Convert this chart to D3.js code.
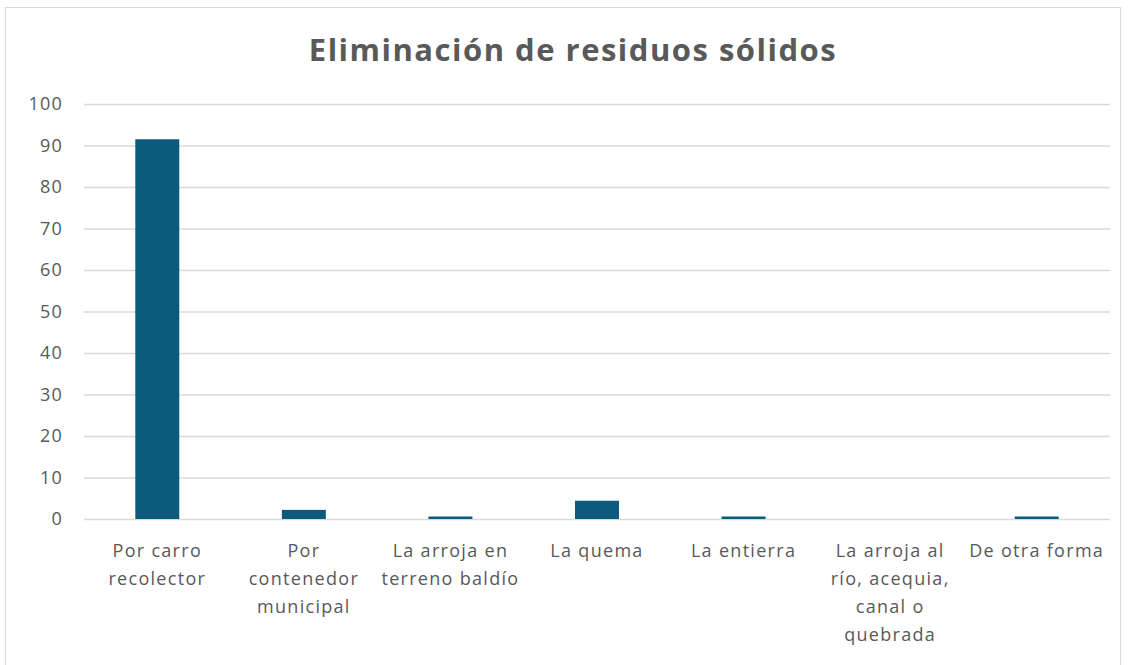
<!DOCTYPE html>
<html><head><meta charset="utf-8">
<script src="https://cdn.jsdelivr.net/npm/d3@7"></script>
<style>body{margin:0;background:#fff;}svg{display:block;font-family:"Open Sans",sans-serif;}</style>
</head><body>
<svg id="c" width="1128" height="665"></svg>
<script>
const categories = ["Por carro\nrecolector","Por\ncontenedor\nmunicipal","La arroja en\nterreno baldío","La quema","La entierra","La arroja al\nrío, acequia,\ncanal o\nquebrada","De otra forma"];
const values = [91.5, 2.2, 0.6, 4.4, 0.6, 0, 0.6];
const yTicks = [0,10,20,30,40,50,60,70,80,90,100];
const title = "Eliminación de residuos sólidos";

const svg = d3.select("#c");
svg.append("rect").attr("x",5.5).attr("y",7.5).attr("width",1115).attr("height",670)
  .attr("fill","#fff").attr("stroke","#d9d9d9").attr("stroke-width",1);

const m = {l:84, r:1110, t:104, b:519};
const x = d3.scaleBand().domain(categories).range([m.l,m.r]).paddingInner(0.7).paddingOuter(0.35);
const y = d3.scaleLinear().domain([0,100]).range([m.b,m.t]);

svg.append("text").attr("x",573).attr("y",61).attr("text-anchor","middle")
  .attr("font-size",31).attr("font-weight",700).attr("letter-spacing",1.5).attr("fill","#595959").text(title);

const ya = svg.append("g").attr("transform",`translate(${m.l},0)`)
  .call(d3.axisLeft(y).tickValues(yTicks).tickSize(-(m.r-m.l)).tickPadding(21));
ya.select(".domain").remove();
ya.selectAll(".tick line").attr("stroke","#d9d9d9").attr("stroke-width",1.3);
ya.selectAll(".tick text").attr("font-size",18).attr("letter-spacing",1.2).attr("fill","#595959").attr("font-family","Open Sans, sans-serif");

svg.append("g").selectAll("rect").data(values).join("rect")
  .attr("x",(d,i)=>x(categories[i])).attr("width",x.bandwidth())
  .attr("y",d=>y(d)).attr("height",d=>y(0)-y(d)).attr("fill","#0b5a7c");

const xa = svg.append("g").attr("transform",`translate(0,${m.b})`).call(d3.axisBottom(x).tickSize(0));
xa.select(".domain").remove();
xa.selectAll(".tick text").each(function(d){
  const t = d3.select(this); t.text(null);
  t.attr("font-size",18).attr("letter-spacing",1.3).attr("fill","#595959").attr("font-family","Open Sans, sans-serif").attr("y",0).attr("dy",null);
  d.split("\n").forEach((s,i)=>{
    t.append("tspan").attr("x",0).attr("y",38+i*28).text(s);
  });
});
</script>
</body></html>
